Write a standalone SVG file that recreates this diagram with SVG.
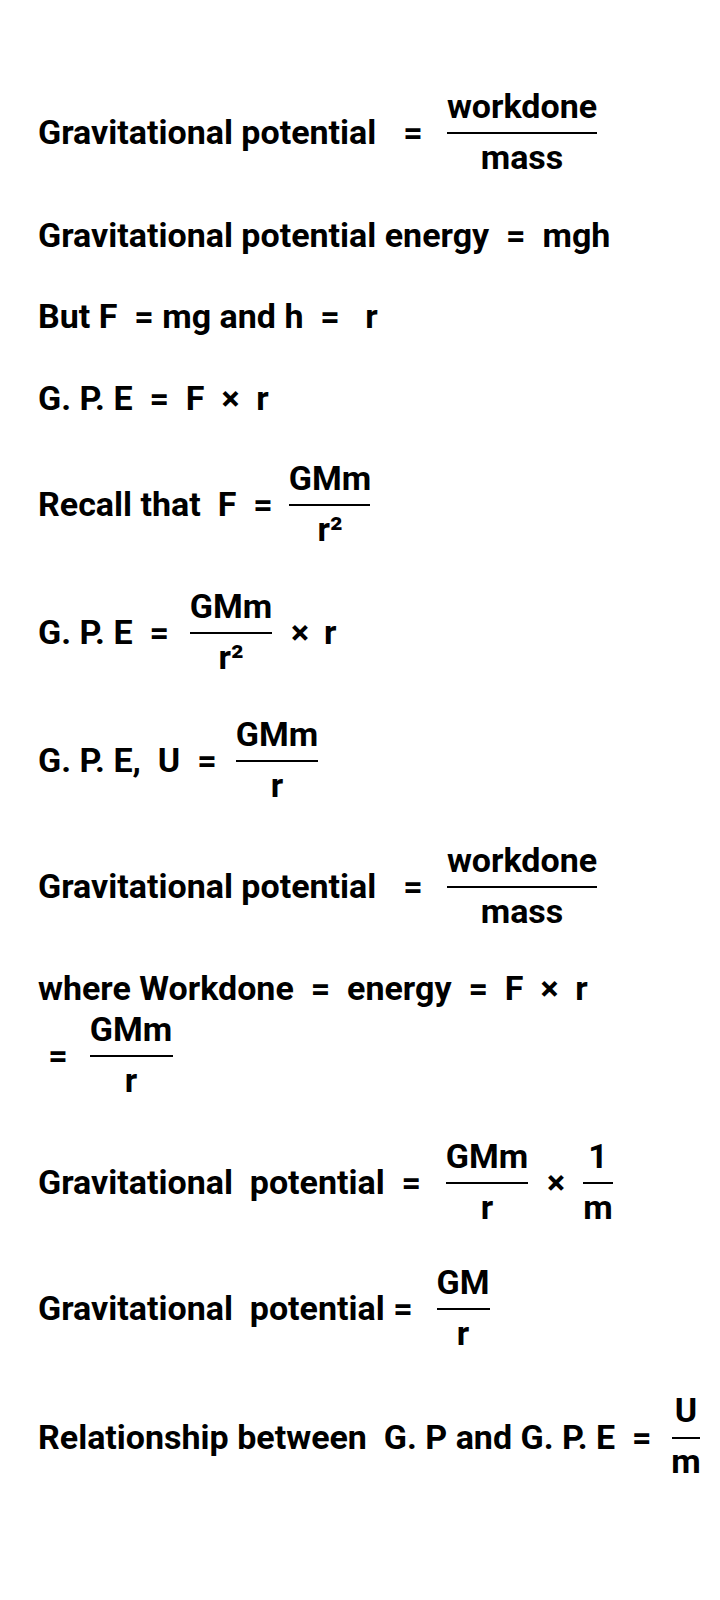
<svg xmlns="http://www.w3.org/2000/svg" width="720" height="1600" viewBox="0 0 720 1600">
<style>
text{font-family:Roboto,"Liberation Sans",sans-serif;font-weight:700;font-size:34px;fill:#000;white-space:pre}
.c{text-anchor:middle}
.fl{stroke:#000;stroke-width:2}
</style>
<rect width="720" height="1600" fill="#fff"/>
<g id="row1">
<text x="38" y="144">Gravitational potential</text>
<text x="413" y="144" class="c">=</text>
<text x="522" y="118" class="c">workdone</text>
<line class="fl" x1="447" y1="133" x2="597" y2="133"/>
<text x="522" y="169" class="c">mass</text>
</g>
<g id="row2"><text x="38" y="247" xml:space="preserve">Gravitational potential energy  =  mgh</text></g>
<g id="row3"><text x="38" y="328" xml:space="preserve">But F  = mg and h  =   r</text></g>
<g id="row4"><text x="38" y="410" xml:space="preserve">G. P. E  =  F  ×  r</text></g>
<g id="row5">
<text x="38" y="516" xml:space="preserve">Recall that  F  =</text>
<text x="330" y="490" class="c">GMm</text>
<line class="fl" x1="289" y1="505" x2="370" y2="505"/>
<text x="330" y="541" class="c">r²</text>
</g>
<g id="row6">
<text x="38" y="644" xml:space="preserve">G. P. E  =</text>
<text x="231" y="618" class="c">GMm</text>
<line class="fl" x1="190" y1="633" x2="272" y2="633"/>
<text x="231" y="669" class="c">r²</text>
<text x="300" y="644" class="c">×</text>
<text x="324" y="644">r</text>
</g>
<g id="row7">
<text x="38" y="772" xml:space="preserve">G. P. E,  U  =</text>
<text x="277" y="746" class="c">GMm</text>
<line class="fl" x1="236" y1="761" x2="318" y2="761"/>
<text x="277" y="797" class="c">r</text>
</g>
<g id="row8">
<text x="38" y="898">Gravitational potential</text>
<text x="413" y="898" class="c">=</text>
<text x="522" y="872" class="c">workdone</text>
<line class="fl" x1="447" y1="887" x2="597" y2="887"/>
<text x="522" y="923" class="c">mass</text>
</g>
<g id="row9"><text x="38" y="1000" xml:space="preserve">where Workdone  =  energy  =  F  ×  r</text></g>
<g id="row10">
<text x="58" y="1067" class="c">=</text>
<text x="131" y="1041" class="c">GMm</text>
<line class="fl" x1="90" y1="1056" x2="173" y2="1056"/>
<text x="131" y="1092" class="c">r</text>
</g>
<g id="row11">
<text x="38" y="1194" xml:space="preserve">Gravitational  potential  =</text>
<text x="487" y="1168" class="c">GMm</text>
<line class="fl" x1="446" y1="1183" x2="528" y2="1183"/>
<text x="487" y="1219" class="c">r</text>
<text x="556" y="1194" class="c">×</text>
<text x="598" y="1168" class="c">1</text>
<line class="fl" x1="583" y1="1183" x2="613" y2="1183"/>
<text x="598" y="1219" class="c">m</text>
</g>
<g id="row12">
<text x="38" y="1320" xml:space="preserve">Gravitational  potential =</text>
<text x="463" y="1294" class="c">GM</text>
<line class="fl" x1="437" y1="1309" x2="490" y2="1309"/>
<text x="463" y="1345" class="c">r</text>
</g>
<g id="row13">
<text x="38" y="1449" xml:space="preserve">Relationship between  G. P and G. P. E  =</text>
<text x="686" y="1422" class="c">U</text>
<line class="fl" x1="672" y1="1438" x2="700" y2="1438"/>
<text x="686" y="1473" class="c">m</text>
</g>
<g id="connectors"/>
</svg>
